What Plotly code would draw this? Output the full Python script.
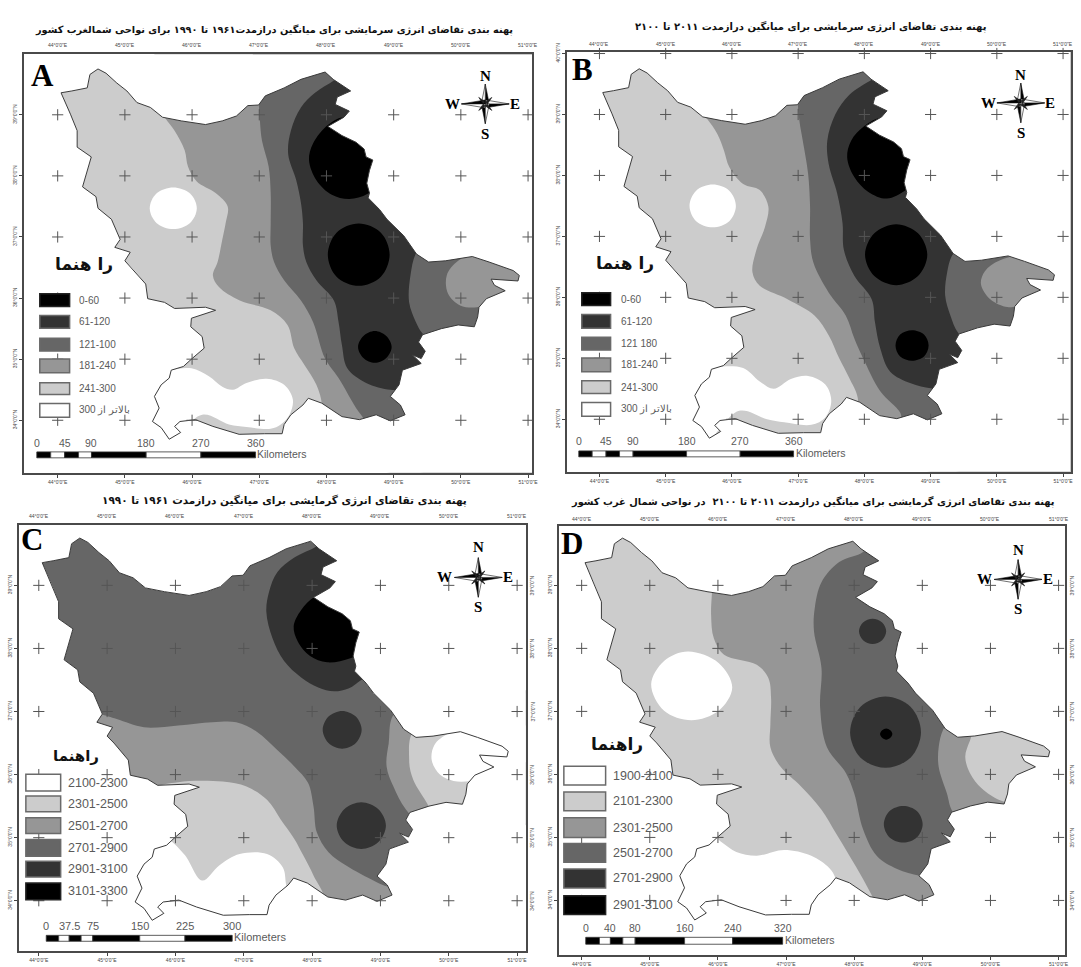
import plotly.graph_objects as go

W, H = 1081, 967

# ---------- shared data ----------
LON_TICKS = [44, 45, 46, 47, 48, 49, 50, 51]
LAT_TICKS_TOP = [34, 35, 36, 37, 38, 39, 40]
LAT_TICKS_LOW = [34, 35, 36, 37, 38, 39]

OUTLINE = [
    (44.60,39.75),(44.72,39.68),(44.88,39.52),(45.03,39.39),(45.18,39.20),(45.38,39.12),(45.56,38.96),
    (45.84,38.90),(46.20,38.84),(46.45,38.90),(46.66,38.98),(46.83,39.15),(46.99,39.16),(47.09,39.31),
    (47.37,39.44),(47.62,39.58),(47.98,39.70),(48.10,39.58),(48.36,39.39),(48.16,39.29),(48.13,39.17),
    (48.34,39.06),(48.26,38.96),(48.02,38.81),(48.23,38.66),(48.44,38.55),(48.56,38.44),(48.59,38.31),
    (48.69,38.26),(48.64,38.09),(48.60,37.88),(48.64,37.72),(48.62,37.64),(48.79,37.45),(48.90,37.29),
    (49.15,37.02),(49.34,36.72),(49.52,36.59),(49.77,36.61),(50.17,36.68),(50.42,36.59),(50.78,36.45),
    (50.87,36.37),(50.85,36.28),(50.45,36.31),(50.50,36.21),(50.66,36.12),(50.38,35.99),(50.27,35.85),
    (50.25,35.69),(50.20,35.53),(49.96,35.56),(49.71,35.50),(49.43,35.40),(49.37,35.28),(49.47,35.13),
    (49.41,35.01),(49.28,35.07),(49.41,34.93),(49.13,34.82),(49.08,34.58),(48.95,34.39),(49.10,34.25),
    (49.17,34.09),(48.95,33.99),(48.74,34.09),(48.49,34.01),(48.23,34.06),(47.93,34.28),(47.73,34.36),
    (47.65,34.25),(47.47,34.09),(47.37,33.93),(47.34,33.78),(47.08,33.78),(46.70,33.77),(46.31,33.90),
    (46.05,34.01),(45.82,33.98),(45.74,33.90),(45.83,33.80),(45.66,33.69),(45.54,33.88),(45.41,33.98),
    (45.51,34.20),(45.44,34.39),(45.54,34.58),(45.66,34.69),(45.69,34.82),(45.87,34.88),(46.00,35.01),
    (46.18,35.18),(46.15,35.37),(45.98,35.53),(45.99,35.67),(46.15,35.73),(46.35,35.80),(46.20,35.85),
    (45.74,35.83),(45.59,35.93),(45.34,35.99),(45.31,36.23),(45.10,36.50),(45.00,36.61),(45.08,36.75),
    (44.85,36.83),(44.93,36.96),(44.80,37.29),(44.60,37.47),(44.57,37.66),(44.37,37.82),(44.50,38.31),
    (44.29,38.47),(44.29,38.74),(44.19,39.01),(44.05,39.36),(44.21,39.39),(44.44,39.44),(44.48,39.66),
    (44.60,39.75),
]

# ---------- panel A ----------
A_WHITE_SOUTH = [(45.69,34.82),(45.99,34.85),(46.25,34.72),(46.45,34.55),(46.61,34.50),(46.81,34.61),(47.11,34.68),
                 (47.37,34.58),(47.50,34.34),(47.45,34.09),(47.32,33.93),(47.17,33.86),(46.81,33.89),(46.55,33.93),
                 (46.15,34.09),(45.59,33.60),(45.18,33.93),(45.28,34.42),(45.54,34.74),(45.69,34.82)]
A_WHITE_BLOB = [(46.07,37.47),(45.97,37.71),(45.72,37.81),(45.47,37.71),(45.37,37.47),(45.47,37.23),(45.72,37.13),(45.97,37.23),(46.07,37.47)]
A_G999 = [(45.54,39.06),(45.61,38.93),(45.74,38.74),(45.89,38.42),(45.94,38.15),(46.07,37.91),(46.35,37.72),(46.53,37.50),
          (46.50,37.23),(46.45,36.96),(46.38,36.59),(46.31,36.37),(46.40,36.18),(46.71,35.96),(47.17,35.80),(47.42,35.56),
          (47.52,35.18),(47.67,34.91),(47.85,34.58),(47.93,34.25),(47.88,34.04),(48.5,33.3),(52,33.3),(52,40.2),(45.54,40.2),(45.54,39.06)]
A_G666 = [(46.99,39.28),(47.01,38.90),(47.04,38.58),(47.14,38.15),(47.17,37.72),(47.17,37.23),(47.17,36.86),(47.22,36.59),
          (47.37,36.29),(47.62,35.96),(47.80,35.61),(47.98,35.01),(48.18,34.69),(48.44,34.20),(48.56,34.01),(48.62,33.82),
          (49,33.3),(52,33.3),(52,40.2),(46.99,40.2),(46.99,39.28)]
A_G333 = [(48.29,39.71),(48.11,39.56),(47.83,39.36),(47.62,39.12),(47.47,38.74),(47.43,38.36),(47.55,37.93),(47.62,37.56),
          (47.65,37.23),(47.65,36.86),(47.70,36.59),(47.85,36.29),(48.11,35.96),(48.18,35.61),(48.23,35.23),(48.31,34.85),
          (48.59,34.61),(48.95,34.50),(49.15,34.53),(49.76,35.07),(49.43,35.42),(49.33,35.61),(49.23,35.93),(49.25,36.37),
          (49.34,36.75),(49.56,37.0),(49.76,39.8),(48.29,39.8),(48.29,39.71)]
A_G999_EAST = [(50.22,36.72),(49.96,36.61),(49.79,36.37),(49.81,36.07),(49.99,35.88),(50.24,35.85),(50.42,35.93),(50.78,36.10),(51.08,36.42),(50.78,36.70),(50.22,36.72)]
A_BLACK_N = [(48.03,38.84),(47.80,38.53),(47.74,38.26),(47.85,37.93),(48.08,37.69),(48.34,37.62),(48.62,37.71),(49.05,38.15),(48.79,38.69),(48.28,38.96),(48.03,38.84)]
A_BLACK_M = [(48.94,36.71),(48.81,37.07),(48.48,37.22),(48.15,37.07),(48.02,36.71),(48.15,36.35),(48.48,36.20),(48.81,36.35),(48.94,36.71)]
A_BLACK_S = [(48.97,35.20),(48.89,35.38),(48.72,35.46),(48.55,35.38),(48.47,35.20),(48.55,35.02),(48.72,34.94),(48.89,35.02),(48.97,35.20)]

# ---------- panel B ----------
B_WHITE_SOUTH = [(45.75,34.86),(46.17,34.84),(46.42,34.62),(46.63,34.50),(46.89,34.66),(47.15,34.71),(47.41,34.57),(47.50,34.30),
                 (47.41,34.03),(47.20,33.91),(46.79,33.95),(46.53,34.0),(46.11,34.14),(45.54,33.59),(45.13,33.92),(45.28,34.51),(45.54,34.84),(45.75,34.86)]
B_WHITE_BLOB = [(46.06,37.50),(45.96,37.75),(45.71,37.85),(45.46,37.75),(45.36,37.50),(45.46,37.25),(45.71,37.15),(45.96,37.25),(46.06,37.50)]
B_G999 = [(45.54,39.03),(45.63,38.92),(45.78,38.68),(45.88,38.41),(45.96,38.14),(46.17,37.86),(46.42,37.76),(46.55,37.49),
          (46.50,37.16),(46.37,36.78),(46.31,36.41),(46.42,36.19),(46.84,35.97),(47.25,35.70),(47.46,35.38),(47.62,35.00),
          (47.77,34.68),(47.90,34.35),(47.88,33.92),(48.5,33.3),(52,33.3),(52,40.2),(45.54,40.2),(45.54,39.03)]
B_G666 = [(46.99,39.27),(47.02,38.89),(47.07,38.57),(47.15,38.03),(47.18,37.49),(47.18,36.95),(47.23,36.57),(47.46,36.08),
          (47.72,35.70),(47.85,35.32),(47.98,35.00),(48.24,34.46),(48.54,34.11),(48.58,33.92),(49,33.3),(52,33.3),(52,40.2),(46.99,40.2),(46.99,39.27)]
B_G333 = [(48.24,39.65),(48.11,39.57),(47.77,39.32),(47.56,39.00),(47.44,38.57),(47.46,38.19),(47.59,37.70),(47.67,37.22),
          (47.69,36.78),(47.85,36.35),(48.11,35.97),(48.16,35.59),(48.24,35.16),(48.39,34.78),(48.70,34.59),(49.0,34.51),
          (49.17,34.51),(49.79,35.05),(49.42,35.41),(49.30,35.70),(49.22,36.03),(49.25,36.41),(49.32,36.68),(49.53,36.95),
          (49.79,39.8),(48.24,39.8),(48.24,39.65)]
B_G999_EAST = [(50.05,36.61),(49.82,36.43),(49.76,36.22),(49.90,35.97),(50.16,35.84),(50.31,35.86),(50.67,35.97),(51.14,36.41),(50.83,36.73),(50.05,36.61)]
B_BLACK_N = [(48.0,38.81),(47.80,38.57),(47.74,38.30),(47.85,37.97),(48.06,37.73),(48.34,37.62),(48.63,37.76),(49.02,38.14),(48.76,38.68),(48.29,38.95),(48.0,38.81)]
B_BLACK_M = [(48.95,36.70),(48.81,37.05),(48.48,37.20),(48.15,37.05),(48.01,36.70),(48.15,36.35),(48.48,36.20),(48.81,36.35),(48.95,36.70)]
B_BLACK_S = [(48.97,35.21),(48.90,35.39),(48.72,35.46),(48.54,35.39),(48.47,35.21),(48.54,35.03),(48.72,34.96),(48.90,35.03),(48.97,35.21)]

# ---------- panel C ----------
C_G999_SW = [(44.19,37.07),(44.89,36.96),(45.14,36.88),(45.54,36.75),(46.04,36.78),(46.54,36.83),(46.89,36.83),(47.19,36.68),
             (47.49,36.39),(47.74,36.13),(47.94,35.87),(48.02,35.50),(48.07,35.08),(48.24,34.77),(48.54,34.53),(48.99,34.27),
             (49.24,34.14),(49.19,33.62),(44.94,33.3),(43.93,35.4),(44.19,37.07)]
C_G999_EAST = [(49.24,37.01),(49.12,36.49),(49.09,36.13),(49.19,35.81),(49.37,35.45),(49.69,35.13),(51.45,35.4),(51.45,37.2),(49.24,37.01)]
C_GCCC_SW = [(45.69,35.76),(46.04,35.88),(46.69,35.89),(47.04,35.81),(47.34,35.60),(47.54,35.29),(47.74,34.98),(47.87,34.72),
             (48.02,34.40),(48.17,33.98),(47.44,33.3),(44.94,33.83),(45.69,35.76)]
C_GCCC_EAST = [(49.52,36.75),(49.42,36.23),(49.48,35.92),(49.69,35.53),(49.79,35.29),(51.45,35.4),(51.45,37.2),(49.52,36.75)]
C_WHITE_SOUTH = [(45.59,35.08),(45.89,34.98),(46.14,34.72),(46.39,34.32),(46.64,34.56),(46.94,34.74),(47.34,34.74),(47.57,34.53),
                 (47.62,34.25),(47.69,33.83),(45.94,33.41),(45.19,33.83),(45.34,34.87),(45.59,35.08)]
C_WHITE_EAST = [(49.99,36.65),(49.79,36.47),(49.75,36.23),(49.87,36.0),(50.07,35.90),(50.32,35.90),(50.70,36.02),(51.45,36.44),(50.95,36.86),(50.34,36.81),(49.99,36.65)]
C_G333_ARC = [(48.19,39.73),(48.07,39.62),(47.74,39.44),(47.49,39.21),(47.37,38.90),(47.33,38.58),(47.42,38.16),(47.59,37.80),
              (47.84,37.54),(48.09,37.38),(48.32,37.32),(48.54,37.37),(48.72,37.50),(49.44,38.01),(48.94,39.84),(48.19,39.73)]
C_BLACK_N = [(48.04,38.82),(47.84,38.61),(47.73,38.35),(47.79,38.11),(47.97,37.88),(48.22,37.78),(48.57,37.85),(49.04,38.11),(48.94,38.69),(48.44,38.95),(48.04,38.82)]
C_G333_M = [(48.725,36.71),(48.64,36.92),(48.44,37.01),(48.24,36.92),(48.155,36.71),(48.24,36.50),(48.44,36.41),(48.64,36.50),(48.725,36.71)]
C_G333_S = [(49.08,35.19),(48.97,35.45),(48.72,35.56),(48.47,35.45),(48.36,35.19),(48.47,34.93),(48.72,34.82),(48.97,34.93),(49.08,35.19)]

# ---------- panel D ----------
D_WHITE_BLOB = [(46.21,37.38),(46.01,37.01),(45.61,36.86),(45.21,37.01),(45.02,37.43),(45.21,37.80),(45.56,37.95),(46.01,37.77),(46.21,37.38)]
D_WHITE_SOUTH = [(45.86,35.07),(46.06,34.92),(46.27,34.77),(46.57,34.71),(46.97,34.80),(47.37,34.71),(47.63,34.52),(47.73,34.34),
                 (47.78,33.82),(45.86,33.40),(45.11,33.82),(45.26,34.86),(45.86,35.07)]
D_G999 = [(45.92,39.05),(45.90,38.53),(45.94,38.16),(46.09,37.90),(46.57,37.74),(46.74,37.53),(46.78,37.22),(46.77,36.80),
          (46.77,36.43),(46.92,36.12),(47.22,35.81),(47.52,35.44),(47.73,35.07),(47.93,34.71),(48.13,34.34),(48.31,33.97),
          (48.6,33.3),(52,33.3),(52,40.2),(45.92,40.2),(45.92,39.05)]
D_G666 = [(48.23,39.68),(48.13,39.53),(47.78,39.37),(47.52,39.05),(47.42,38.63),(47.41,38.27),(47.52,37.69),(47.50,37.06),
          (47.60,36.43),(47.88,36.02),(48.0,35.70),(48.13,35.13),(48.33,34.71),(48.63,34.50),(48.96,34.39),(49.24,34.34),
          (49.89,34.97),(49.45,35.40),(49.36,35.70),(49.24,36.12),(49.24,36.43),(49.31,36.72),(49.54,37.06),(49.39,39.84),(48.23,39.68)]
D_GCCC_EAST = [(49.89,36.96),(49.70,36.54),(49.63,36.28),(49.70,36.02),(49.87,35.78),(50.14,35.59),(50.39,35.54),(51.40,35.91),(51.15,36.96),(49.89,36.96)]
D_G333_N = [(48.47,38.27),(48.41,38.41),(48.27,38.47),(48.13,38.41),(48.07,38.27),(48.13,38.13),(48.27,38.07),(48.41,38.13),(48.47,38.27)]
D_G333_M = [(48.98,36.67),(48.83,37.07),(48.46,37.235),(48.09,37.07),(47.94,36.67),(48.09,36.27),(48.46,36.105),(48.83,36.27),(48.98,36.67)]
D_BLACK_M = [(48.56,36.64),(48.53,36.70),(48.47,36.73),(48.41,36.70),(48.38,36.64),(48.41,36.58),(48.47,36.55),(48.53,36.58),(48.56,36.64)]
D_G333_S = [(49.005,35.21),(48.92,35.42),(48.72,35.50),(48.52,35.42),(48.435,35.21),(48.52,35.0),(48.72,34.92),(48.92,35.0),(49.005,35.21)]

# ---------- legends and texts ----------
A_LEGEND = ["0-60", "61-120", "121-100", "181-240", "241-300", "300 بالاتر از"]
B_LEGEND = ["0-60", "61-120", "121 180", "181-240", "241-300", "300 بالاتر از"]
C_LEGEND = ["2100-2300", "2301-2500", "2501-2700", "2701-2900", "2901-3100", "3101-3300"]
D_LEGEND = ["1900-2100", "2101-2300", "2301-2500", "2501-2700", "2701-2900", "2901-3100"]
COLD_RAMP = ["#000000", "#333333", "#666666", "#969696", "#cccccc", "#ffffff"]
HEAT_RAMP = ["#ffffff", "#cccccc", "#969696", "#666666", "#333333", "#000000"]

A_SCALE = ["0", "45", "90", "180", "270", "360"]
B_SCALE = ["0", "45", "90", "180", "270", "360"]
C_SCALE = ["0", "37.5", "75", "150", "225", "300"]
D_SCALE = ["0", "40", "80", "160", "240", "320"]

A_TITLE = "پهنه بندی تقاضای انرژی سرمایشی برای میانگین درازمدت۱۹۶۱ تا ۱۹۹۰ برای نواحی شمالغرب کشور"
B_TITLE = "پهنه بندی تقاضای انرژی سرمایشی برای میانگین درازمدت ۲۰۱۱ تا ۲۱۰۰"
C_TITLE = "پهنه بندی تقاضای انرژی گرمایشی برای میانگین درازمدت ۱۹۶۱ تا ۱۹۹۰"
D_TITLE = "پهنه بندی تقاضای انرژی گرمایشی برای میانگین درازمدت ۲۰۱۱ تا ۲۱۰۰  در نواحی شمال غرب کشور"
HEAD_SPACED = "را هنما"
HEAD_TIGHT = "راهنما"

G9, G6, G3, GC = "#969696", "#666666", "#333333", "#cccccc"
WH, BK = "#ffffff", "#000000"

PANELS = [
    dict(letter="A", base=GC, lats=LAT_TICKS_TOP,
         zones=[(A_WHITE_SOUTH, WH), (A_WHITE_BLOB, WH), (A_G999, G9), (A_G666, G6), (A_G333, G3), (A_G999_EAST, G9),
                (A_BLACK_N, BK), (A_BLACK_M, BK), (A_BLACK_S, BK)],
         lon=(58, 531), lat=(107, 416), frame=(24, 535, 46, 469),
         title=A_TITLE, tx=276, ty=21, tsize=9.75, legend=A_LEGEND, ramp=COLD_RAMP,
         sw=(40, 70, [(288, 301), (310, 323), (333, 346), (354, 368), (378, 390), (399, 413)]),
         ltx=79, lsize=10, head=(84, 258, 17), headtext=HEAD_SPACED,
         scale=A_SCALE, bar=([37, 51, 65, 79, 92, 147, 202, 257], 448, 454), sly=439, km=(258, 450), ssize=10.5,
         let=(43, 67), comp=(488, 96, 68, 126, 455, 518), right=None, left=15, top=36, bottom=477),
    dict(letter="B", base=GC, lats=LAT_TICKS_TOP,
         zones=[(B_WHITE_SOUTH, WH), (B_WHITE_BLOB, WH), (B_G999, G9), (B_G666, G6), (B_G333, G3), (B_G999_EAST, G9),
                (B_BLACK_N, BK), (B_BLACK_M, BK), (B_BLACK_S, BK)],
         lon=(602.8, 1069), lat=(106.7, 415), frame=(570.4, 1076.5, 43.3, 468),
         title=B_TITLE, tx=816, ty=18, tsize=10, legend=B_LEGEND, ramp=COLD_RAMP,
         sw=(585, 614, [(287, 300), (309, 323), (332, 345), (353, 367), (376, 389), (398, 412)]),
         ltx=624, lsize=10, head=(628, 257, 17), headtext=HEAD_SPACED,
         scale=B_SCALE, bar=([582, 595.5, 609.4, 623, 636.6, 690.4, 744.3, 798], 447, 453), sly=437, km=(800.5, 449), ssize=10.5,
         let=(586, 61), comp=(1026.5, 95, 67, 125, 994, 1056), right=None, left=560.5, top=35, bottom=477),
    dict(letter="C", base=G6, lats=LAT_TICKS_LOW,
         zones=[(C_G999_SW, G9), (C_G999_EAST, G9), (C_GCCC_SW, GC), (C_GCCC_EAST, GC), (C_WHITE_SOUTH, WH), (C_WHITE_EAST, WH),
                (C_G333_ARC, G3), (C_BLACK_N, BK), (C_G333_M, G3), (C_G333_S, G3)],
         lon=(39, 520), lat=(583, 902), frame=(19, 528.6, 521.7, 953),
         title=C_TITLE, tx=286, ty=497, tsize=10.5, legend=C_LEGEND, ramp=HEAT_RAMP,
         sw=(26, 61, [(774, 791), (796, 812), (818, 834), (840, 857), (862, 878), (884, 901)]),
         ltx=68, lsize=12.5, head=(76, 756, 15), headtext=HEAD_TIGHT,
         scale=C_SCALE, bar=([46.5, 59, 69.6, 81.6, 93.3, 140.5, 186, 233.5], 937, 943), sly=928, km=(235, 939), ssize=11,
         let=(32, 537), comp=(481, 575, 544, 605, 447, 511), right=535, left=10, top=513, bottom=963),
    dict(letter="D", base=GC, lats=LAT_TICKS_LOW,
         zones=[(D_WHITE_BLOB, WH), (D_WHITE_SOUTH, WH), (D_G999, G9), (D_G666, G6), (D_GCCC_EAST, GC),
                (D_G333_N, G3), (D_G333_M, G3), (D_BLACK_M, BK), (D_G333_S, G3)],
         lon=(584.9, 1064.5), lat=(583, 901.7), frame=(561.7, 1071.4, 523, 957),
         title=D_TITLE, tx=817, ty=499, tsize=9.85, legend=D_LEGEND, ramp=HEAT_RAMP,
         sw=(567, 609, [(766, 785), (792, 811), (818, 838), (844, 863), (870, 889), (897, 916)]),
         ltx=616.6, lsize=12.5, head=(620, 743, 17), headtext=HEAD_TIGHT,
         scale=D_SCALE, bar=([589, 602.8, 613.8, 626.3, 638.7, 688.4, 736.7, 787], 939, 946), sly=930, km=(789, 942), ssize=10.5,
         let=(575.5, 541), comp=(1023.8, 577, 547, 607, 990, 1054), right=1078, left=542, top=516, bottom=965),
]


def X(p):
    return p / W


def Y(p):
    return 1 - p / H


fig = go.Figure()
shapes, annos = [], []
layout = dict(width=W, height=H, autosize=False, margin=dict(l=0, r=0, t=0, b=0),
              paper_bgcolor="white", plot_bgcolor="white", showlegend=False)


def poly(pts, color, ax, spline=False):
    fig.add_trace(go.Scatter(x=[p[0] for p in pts], y=[p[1] for p in pts], mode="lines", fill="toself",
                             fillcolor=color, hoverinfo="skip",
                             line=dict(width=0, color=color, shape="spline" if spline else "linear", simplify=False),
                             xaxis=ax[0], yaxis=ax[1]))


def text(x, y, s, size, color="#555555", family="Liberation Sans", bold=False, anchor="left", angle=0):
    annos.append(dict(xref="paper", yref="paper", x=X(x), y=Y(y), text=f"<b>{s}</b>" if bold else s, showarrow=False,
                      xanchor=anchor, yanchor="middle", textangle=angle,
                      font=dict(size=size, color=color, family=family), borderpad=0, borderwidth=0))


def tri(a, b, c, fill):
    d = f"M{X(a[0])},{Y(a[1])}L{X(b[0])},{Y(b[1])}L{X(c[0])},{Y(c[1])}Z"
    shapes.append(dict(type="path", xref="paper", yref="paper", path=d, fillcolor=fill,
                       line=dict(color="#111111", width=0.6), layer="above"))


def compass(cx, cy):
    L, S, w = 20, 11, 4
    for dx, dy in [(0, -1), (1, 0), (0, 1), (-1, 0)]:
        r = L + 4 if dx else L
        tip = (cx + dx * r, cy + dy * r)
        side1 = (cx - dy * w, cy + dx * w)
        side2 = (cx + dy * w, cy - dx * w)
        tri(tip, side1, (cx, cy), "#000000")
        tri(tip, side2, (cx, cy), "#ffffff")
    for dx, dy in [(1, 1), (1, -1), (-1, 1), (-1, -1)]:
        tri((cx + dx * S * .6, cy + dy * S * .6), (cx + dx * 2, cy), (cx, cy + dy * 2), "#222222")


for i, P in enumerate(PANELS):
    n = "" if i == 0 else str(i + 1)
    ax = (f"x{n}", f"y{n}")
    xl, xr = P["lon"]
    yt, yb = P["lat"]
    L, R, T, B = P["frame"]
    ppx = (xr - xl) / 7
    ppy = (yb - yt) / 5
    xrange = [44 + (L - xl) / ppx, 44 + (R - xl) / ppx]
    yrange = [39 - (B - yt) / ppy, 39 - (T - yt) / ppy]

    # filled map, zones, then a white mask that clips everything to the region outline
    poly(OUTLINE, P["base"], ax)
    for pts, color in P["zones"]:
        poly(pts, color, ax, spline=True)
    rect = [(43, 33), (52, 33), (52, 41), (43, 41), (43, 33)]
    mask = rect + [OUTLINE[0]] + OUTLINE + [(43, 33)]
    poly(mask, "#ffffff", ax)
    fig.add_trace(go.Scatter(x=[p[0] for p in OUTLINE], y=[p[1] for p in OUTLINE], mode="lines", hoverinfo="skip",
                             line=dict(color="#3a3a3a", width=1.0), xaxis=ax[0], yaxis=ax[1]))
    cx = [lo for la in P["lats"] for lo in LON_TICKS]
    cy = [la for la in P["lats"] for lo in LON_TICKS]
    fig.add_trace(go.Scatter(x=cx, y=cy, mode="markers", hoverinfo="skip", cliponaxis=False,
                             marker=dict(symbol="cross-thin", size=8, line=dict(width=1, color="#555555")),
                             xaxis=ax[0], yaxis=ax[1]))

    layout[f"xaxis{n}"] = dict(domain=[X(L), X(R)], range=xrange, anchor=ax[1], showgrid=False, zeroline=False,
                               showline=True, mirror=True, linecolor="#4a4a4a", linewidth=2,
                               tickvals=LON_TICKS, ticktext=[f"{v}°0'0\"E" for v in LON_TICKS],
                               ticks="outside", ticklen=3, tickcolor="#444444",
                               tickfont=dict(size=5, color="#444444", family="Liberation Sans"), tickangle=0)
    layout[f"yaxis{n}"] = dict(domain=[Y(B), Y(T)], range=yrange, anchor=ax[0], showgrid=False, zeroline=False,
                               showline=True, mirror=True, linecolor="#4a4a4a", linewidth=2,
                               tickvals=P["lats"], ticktext=[f"{v}°0'0\"N" for v in P["lats"]],
                               ticks="outside", ticklen=3, tickcolor="#444444",
                               tickfont=dict(size=5, color="#444444", family="Liberation Sans"), tickangle=-90)
    # top / right duplicates of the graticule labels
    for v in LON_TICKS:
        annos.append(dict(xref=ax[0], yref="paper", x=v, y=Y(P["top"]), text=f"{v}°0'0\"E", showarrow=False,
                          xanchor="center", yanchor="middle", font=dict(size=5, color="#444444", family="Liberation Sans")))
    if P["right"] is not None:
        for v in P["lats"]:
            annos.append(dict(xref="paper", yref=ax[1], x=X(P["right"]), y=v, text=f"{v}°0'0\"N", showarrow=False,
                              xanchor="center", yanchor="middle", textangle=-90,
                              font=dict(size=5, color="#444444", family="Liberation Sans")))

    # title, letter
    text(P["tx"], P["ty"], P["title"], P["tsize"], "#111111", "DejaVu Sans", True, "center")
    text(P["let"][0], P["let"][1], P["letter"], 31, "#000000", "Liberation Serif", True, "center")

    # legend
    sx0, sx1, rows = P["sw"]
    for (y0, y1), col, lab in zip(rows, P["ramp"], P["legend"]):
        shapes.append(dict(type="rect", xref="paper", yref="paper", x0=X(sx0), x1=X(sx1), y0=Y(y1), y1=Y(y0),
                           fillcolor=col, line=dict(color="#6a6a6a" if col != "#000000" else "#222222", width=1.5), layer="above"))
        text(P["ltx"], (y0 + y1) / 2, lab, P["lsize"], "#5a5a5a")
    hx, hy, hs = P["head"]
    text(hx, hy, P["headtext"], hs, "#111111", "DejaVu Sans", True, "center")

    # scale bar
    stops, by0, by1 = P["bar"]
    for k in range(7):
        shapes.append(dict(type="rect", xref="paper", yref="paper", x0=X(stops[k]), x1=X(stops[k + 1]), y0=Y(by1), y1=Y(by0),
                           fillcolor="#000000" if k % 2 == 0 else "#ffffff", line=dict(color="#333333", width=0.8), layer="above"))
    for s, lab in zip([stops[0], stops[2], stops[4], stops[5], stops[6], stops[7]], P["scale"]):
        text(s, P["sly"], lab, P["ssize"], "#5a5a5a", anchor="center")
    text(P["km"][0], P["km"][1], "Kilometers", P["ssize"], "#5a5a5a")

    # compass
    ccx, ccy, ny, sy, wx, ex = P["comp"]
    compass(ccx, ccy)
    text(ccx, ny, "N", 15, "#000000", "Liberation Serif", True, "center")
    text(ccx, sy, "S", 15, "#000000", "Liberation Serif", True, "center")
    text(wx, ccy, "W", 15, "#000000", "Liberation Serif", True, "center")
    text(ex, ccy, "E", 15, "#000000", "Liberation Serif", True, "center")

layout["shapes"] = shapes
layout["annotations"] = annos
fig.update_layout(**layout)
fig.write_html("out.html", config={"displayModeBar": False}, post_script="document.body.style.margin='0';")
